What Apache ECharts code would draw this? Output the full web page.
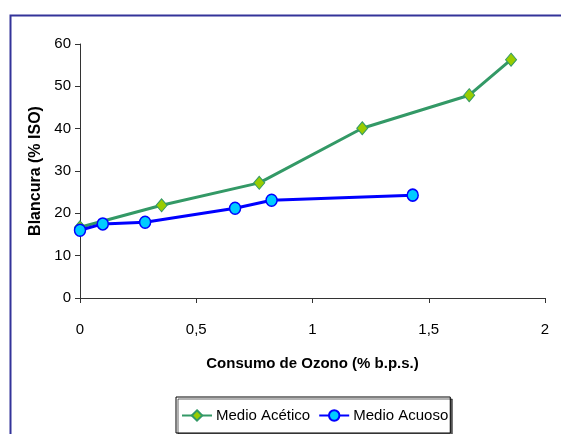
<!DOCTYPE html>
<html>
<head>
<meta charset="utf-8">
<script src="https://cdn.jsdelivr.net/npm/echarts@6/dist/echarts.min.js"></script>
<style>
  html, body { margin: 0; padding: 0; background: #fff; }
  #chart { width: 561px; height: 434px; }
</style>
</head>
<body>
<div id="chart"></div>
<script>
// Brightness vs. ozone consumption, two bleaching media
const seriesNames = ['Medio Acético', 'Medio Acuoso'];
const aceticX = [0, 0.351, 0.771, 1.214, 1.674, 1.854];
const aceticY = [16.7, 21.9, 27.2, 40.1, 47.9, 56.3];
const aqueousX = [0, 0.098, 0.28, 0.667, 0.824, 1.431];
const aqueousY = [16.0, 17.5, 17.9, 21.2, 23.1, 24.3];
const xTitle = 'Consumo de Ozono (% b.p.s.)';
const yTitle = 'Blancura (% ISO)';

const pairs = (xs, ys) => xs.map((x, i) => [x, ys[i]]);
const font = 'Liberation Sans, Arial, sans-serif';

const chart = echarts.init(document.getElementById('chart'), null, { renderer: 'canvas' });
chart.setOption({
  animation: false,
  backgroundColor: '#fff',
  graphic: [{
    type: 'rect',
    left: 8, top: 13,
    shape: { width: 620, height: 520 },
    style: { fill: 'none', stroke: '#333399', lineWidth: 2 },
    z: 0
  }],
  grid: { left: 80, right: 16, top: 44, bottom: 136 },
  xAxis: {
    type: 'value', min: 0, max: 2, interval: 0.5,
    name: xTitle, nameLocation: 'middle', nameGap: 58,
    nameTextStyle: { fontFamily: font, fontSize: 15, fontWeight: 'bold', color: '#000' },
    axisLine: { lineStyle: { color: '#333', width: 1 } },
    axisTick: { show: true, length: 5, lineStyle: { color: '#333' } },
    axisLabel: { fontFamily: font, fontSize: 15, color: '#000', margin: 24,
      formatter: v => String(v).replace('.', ',') },
    splitLine: { show: false }
  },
  yAxis: {
    type: 'value', min: 0, max: 60, interval: 10,
    name: yTitle, nameLocation: 'middle', nameGap: 36, nameRotate: 90,
    nameTextStyle: { fontFamily: font, fontSize: 16, fontWeight: 'bold', color: '#000' },
    axisLine: { show: true, lineStyle: { color: '#333', width: 1 } },
    axisTick: { show: true, length: 5, lineStyle: { color: '#333' } },
    axisLabel: { fontFamily: font, fontSize: 15, color: '#000', margin: 9 },
    splitLine: { show: false }
  },
  legend: {
    data: seriesNames,
    left: 176, top: 397,
    padding: [11, 2, 10, 5],
    itemGap: 8,
    itemWidth: 30, itemHeight: 13,
    borderColor: '#000', borderWidth: 1,
    backgroundColor: '#fff',
    shadowColor: 'rgba(0,0,0,0.6)', shadowOffsetX: 2, shadowOffsetY: 2, shadowBlur: 0,
    textStyle: { fontFamily: font, fontSize: 15, color: '#000', padding: [0, 0, 0, -1] }
  },
  series: [
    {
      name: seriesNames[0], type: 'line',
      data: pairs(aceticX, aceticY),
      symbol: 'diamond', symbolSize: [11, 13],
      lineStyle: { color: '#339966', width: 3 },
      itemStyle: { color: '#99CC00', borderColor: '#339966', borderWidth: 1 },
      z: 2
    },
    {
      name: seriesNames[1], type: 'line',
      data: pairs(aqueousX, aqueousY),
      symbol: 'circle', symbolSize: [11, 12],
      lineStyle: { color: '#0000FF', width: 3 },
      itemStyle: { color: '#00CCFF', borderColor: '#0000FF', borderWidth: 1.5 },
      z: 3
    }
  ]
});
</script>
</body>
</html>
